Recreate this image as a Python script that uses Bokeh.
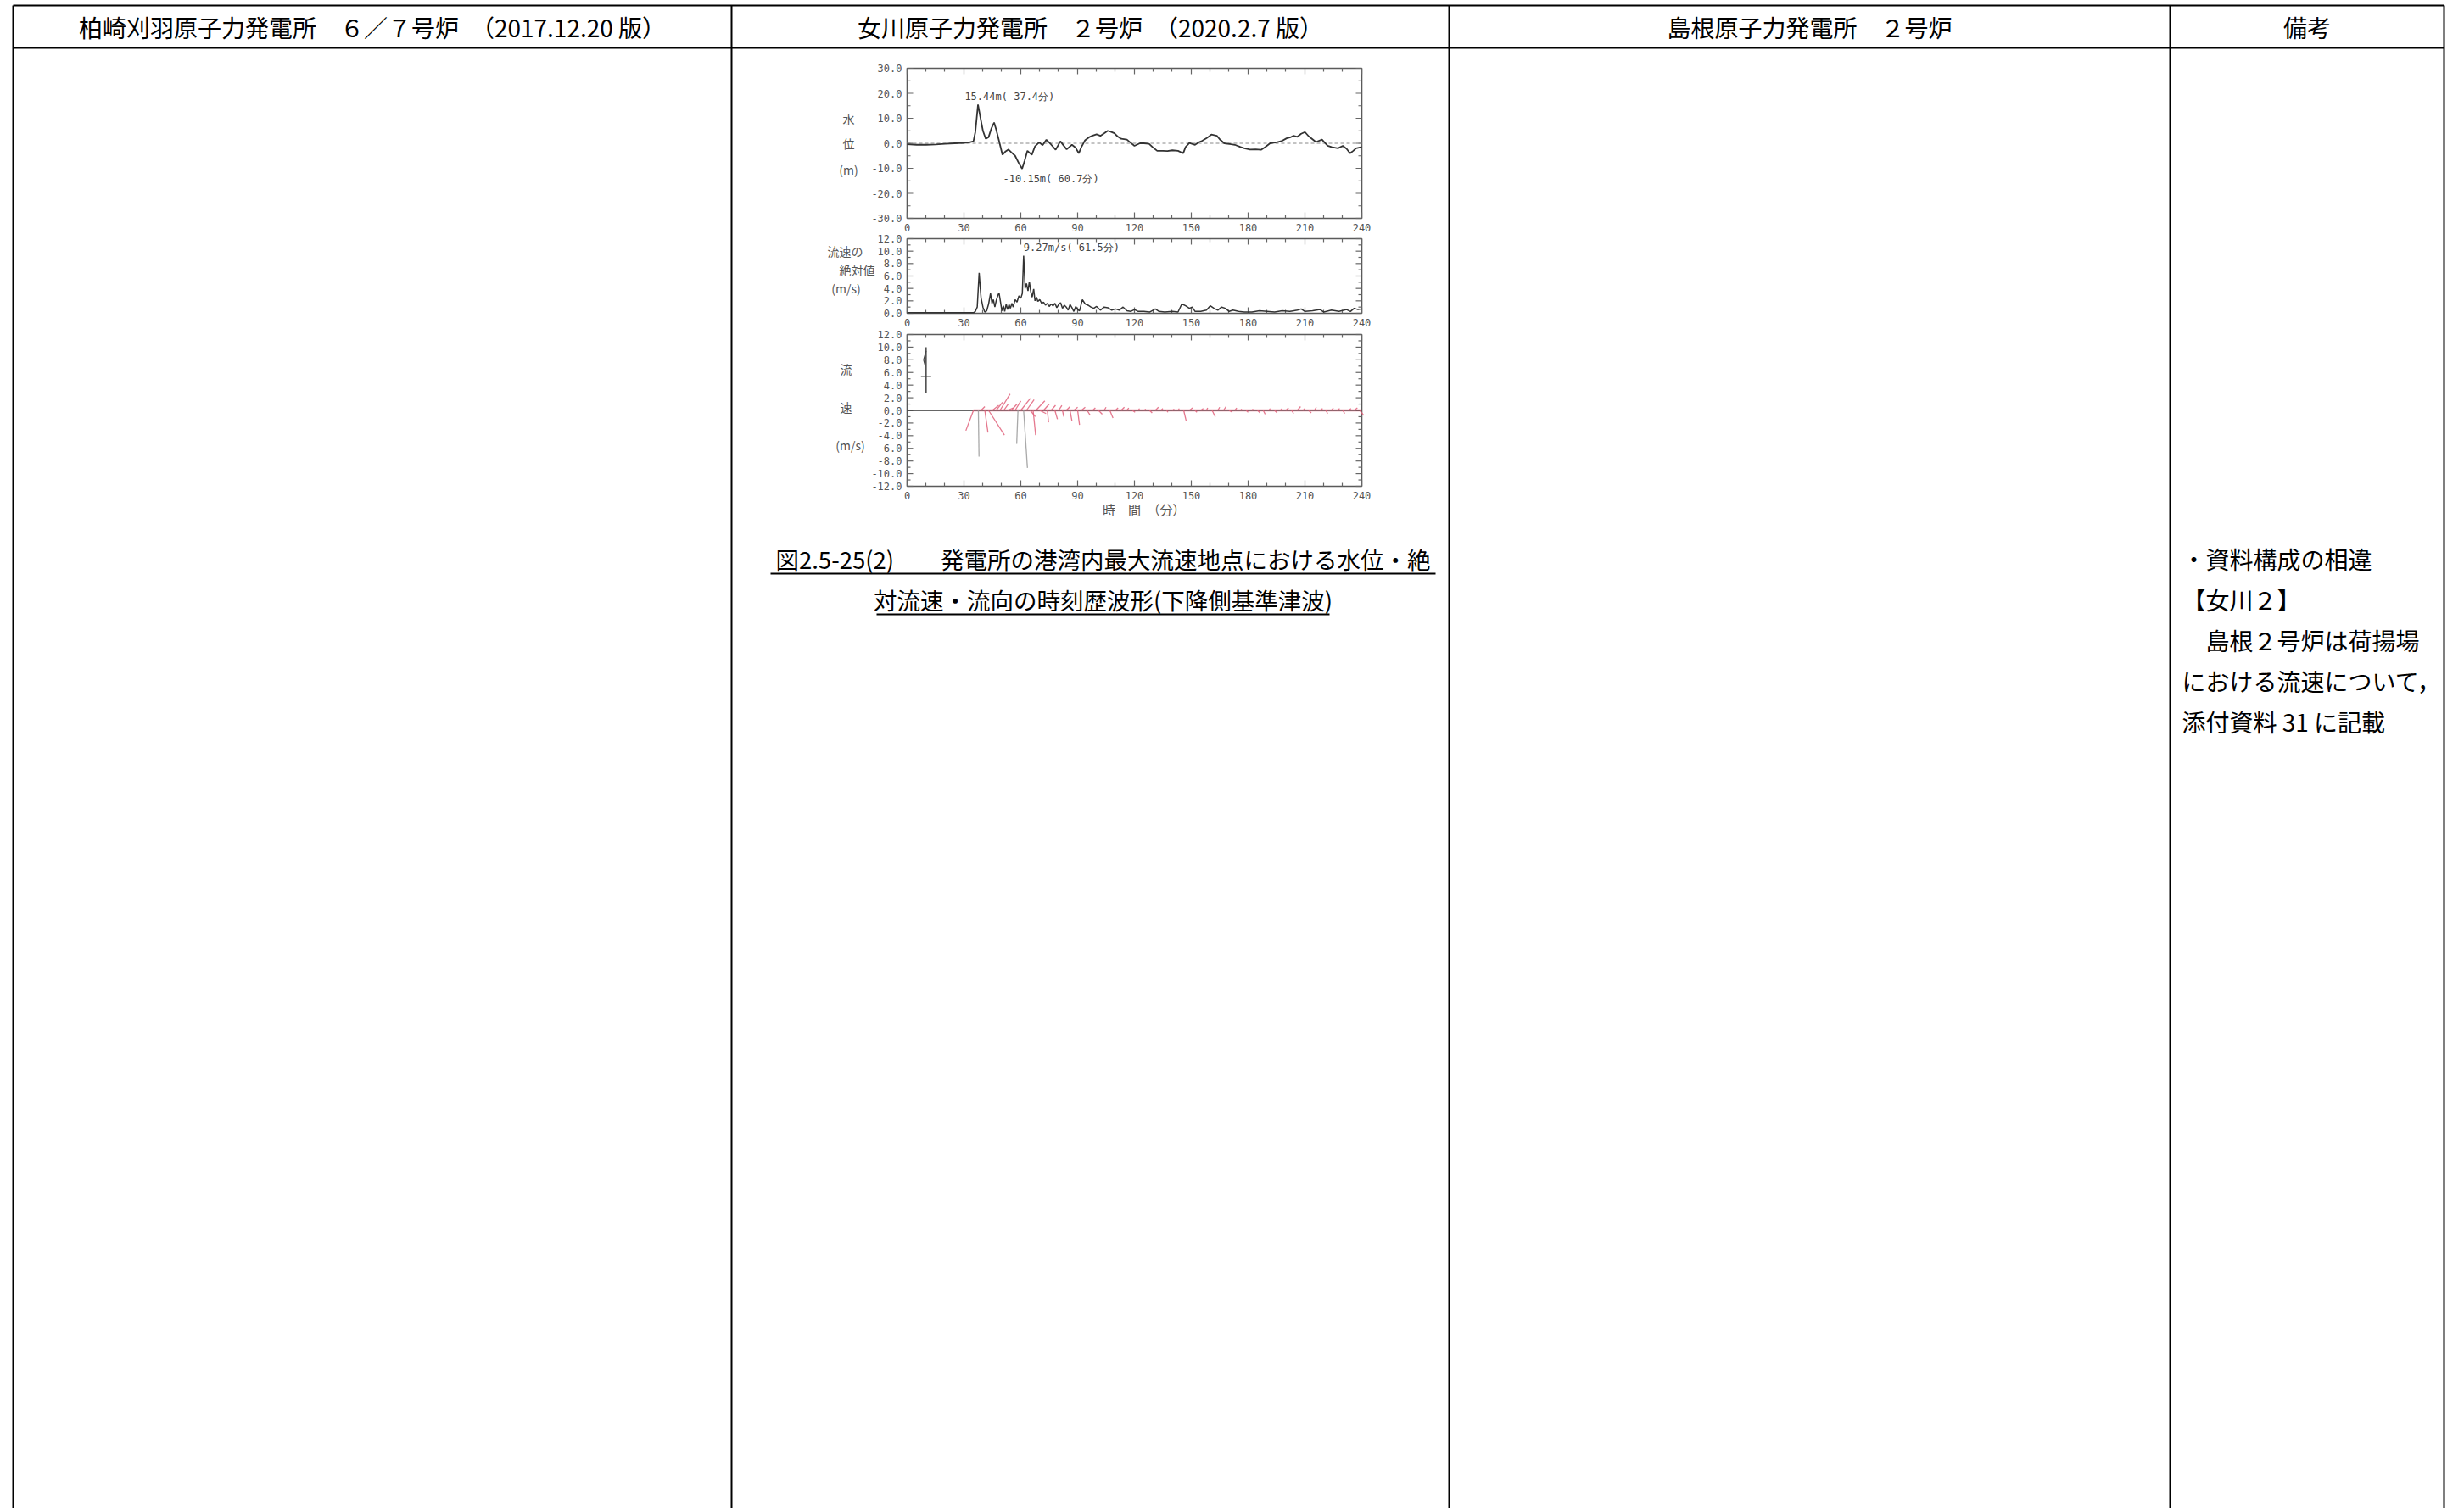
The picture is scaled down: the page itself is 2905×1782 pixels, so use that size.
import numpy as np
from bokeh.plotting import figure
from bokeh.models import Range1d
from bokeh.core.properties import value
from bokeh.embed import file_html
from bokeh.resources import INLINE

# ------------------------------------------------------------------ data
header_labels = [
    "柏崎刈羽原子力発電所　６／７号炉　（2017.12.20 版）",
    "女川原子力発電所　２号炉　（2020.2.7 版）",
    "島根原子力発電所　２号炉",
    "備考",
]
caption_lines = [
    "図2.5-25(2)　　発電所の港湾内最大流速地点における水位・絶",
    "対流速・流向の時刻歴波形(下降側基準津波)",
]
remark_lines = [
    "・資料構成の相違",
    "【女川２】",
    "　島根２号炉は荷揚場",
    "における流速について，",
    "添付資料 31 に記載",
]

time_ticks = [0, 30, 60, 90, 120, 150, 180, 210, 240]
level_ticks = [-30, -20, -10, 0, 10, 20, 30]
speed_ticks = [0, 2, 4, 6, 8, 10, 12]
vel_ticks = [-12, -10, -8, -6, -4, -2, 0, 2, 4, 6, 8, 10, 12]

level_title = ["水", "位", "(m)"]
speed_title = ["流速の", "絶対値", "(m/s)"]
vel_title = ["流", "速", "(m/s)"]
time_title = "時　間　（分）"

# water level (m) vs time (min)
level_t = [
    0, 5, 10, 15, 20, 25, 30, 33, 35, 36,
    37.4, 38.5, 40, 41.5, 43, 44.5, 45.9, 47, 48.5, 50.3,
    52, 53.5, 55, 57, 59, 60.7, 62, 63.5, 65.8, 67.5,
    69.7, 71.5, 73.5, 76, 78.4, 80.9, 82.5, 84.2, 87, 89,
    90.6, 92, 93.9, 96, 97.7, 100, 102, 104, 105.9, 107.5,
    109.4, 111, 113, 116, 118, 120, 122.9, 125, 127.7, 130,
    132, 135, 137.4, 140, 143, 145.7, 147, 149, 152, 154,
    155.8, 158, 160.6, 163.5, 165, 167.4, 171, 173, 176, 178,
    181, 184, 186.8, 189, 191.6, 195.5, 198, 200.3, 202, 204,
    206, 208, 210, 212, 214, 215.8, 219, 220.5, 222, 224,
    227.4, 230, 232, 233.8, 235.5, 237, 240]
level_m = [
    -0.4, -0.6, -0.6, -0.5, -0.2, 0.0, 0.1, 0.4, 0.8, 4.5,
    15.44, 11.0, 5.0, 1.8, 2.5, 6.0, 8.3, 5.5, 1.0, -4.6,
    -3.2, -2.5, -3.6, -5.0, -8.0, -10.15, -7.0, -3.0, -4.6, -1.2,
    0.4, -0.8, 1.4, -0.5, -2.6, 0.8, -0.8, -2.4, -0.6, -1.8,
    -4.0, -1.5, 1.2, 2.4, 3.0, 3.6, 3.0, 4.0, 5.0, 4.6,
    4.0, 2.8, 1.8, 1.5, 0.2, -1.0, 0.0, 0.0, -0.2, -1.8,
    -3.0, -3.0, -3.1, -2.8, -3.0, -4.0, -1.5, 0.1, -0.6, 0.4,
    1.0, 2.0, 3.5, 3.0, 1.6, 0.0, -0.4, -0.6, -1.5, -2.0,
    -2.5, -2.4, -2.6, -1.5, 0.0, 0.5, 1.0, 2.0, 2.3, 3.0,
    2.6, 3.8, 4.5, 2.8, 1.6, 0.5, 1.5, 0.2, -1.0, -1.5,
    -2.0, -1.0, -2.2, -4.0, -3.0, -2.0, -1.5]
level_max = (37.4, 15.44)
level_min = (60.7, -10.15)

# absolute flow speed (m/s) vs time (min)
speed_t = [
    0, 10, 20, 30, 35, 36, 37, 38, 39, 40,
    41, 42, 43, 44, 44.8, 45.5, 46.3, 47, 47.8, 48.5,
    49.3, 50, 50.8, 51.5, 52.3, 53, 53.8, 54.5, 55.3, 56,
    57, 58, 59, 60, 60.8, 61.5, 62.3, 63, 63.8, 64.5,
    65.3, 66, 66.8, 67.5, 68.3, 69, 70, 71, 72, 73,
    74, 75, 76, 77, 78, 79, 80, 81, 82, 83,
    84, 85, 86, 87, 88, 89, 90, 91, 92.5, 94,
    95.5, 97, 98.5, 100, 102, 104, 106, 108, 110, 112,
    114, 116, 118, 120, 122, 125, 128, 131, 133, 136,
    140, 143, 145, 147, 149, 150.5, 152, 155, 158, 160,
    162, 164, 166, 168, 170, 172, 175, 178, 182, 186,
    190, 194, 198, 202, 206, 208, 210, 214, 218, 220,
    224, 228, 232, 234, 236, 238, 240]
speed_v = [
    0.1, 0.1, 0.1, 0.1, 0.1, 0.3, 1.0, 6.5, 2.5, 1.0,
    0.2, 0.4, 1.5, 3.2, 1.6, 2.2, 1.0, 2.0, 2.8, 3.3,
    1.8, 0.4, 1.2, 0.3, 1.5, 0.6, 1.4, 0.8, 1.6, 1.0,
    2.2, 1.8, 2.8, 2.4, 3.2, 9.27, 4.0, 4.8, 3.6, 5.1,
    3.4, 2.6, 3.9, 2.0, 2.6, 1.9, 2.2, 1.6, 1.8, 1.3,
    1.6, 1.1, 1.5, 1.2, 1.6, 0.9, 1.4, 1.7, 0.8, 1.3,
    1.0, 0.5, 1.4, 0.9, 0.3, 1.1, 0.6, 0.4, 2.2, 1.5,
    1.3, 1.0, 0.8, 1.1, 0.5, 1.0, 0.9, 0.5, 0.7, 0.5,
    1.0, 0.4, 0.3, 0.6, 0.3, 0.3, 0.2, 0.7, 0.3, 0.2,
    0.3, 0.2, 1.5, 1.2, 0.8, 1.0, 0.3, 0.3, 0.5, 1.2,
    0.8, 0.5, 1.0, 0.8, 0.3, 0.5, 0.3, 0.2, 0.2, 0.4,
    0.3, 0.2, 0.4, 0.3, 0.5, 0.7, 0.3, 0.4, 0.6, 0.2,
    0.5, 0.3, 0.6, 0.3, 0.8, 0.6, 0.7]
speed_max = (61.5, 9.27)

# flow vectors: time (min), east component u, north component v (m/s)
stick_t = [
    35, 37.6, 39, 41, 43, 45, 47, 49, 51, 53,
    55, 57, 58.5, 60, 61.5, 63, 65, 66.5, 68, 70,
    72, 74, 76, 78, 80, 82, 84, 86, 88, 90,
    92, 95, 98, 101, 104, 107, 110, 113, 116, 119,
    122, 125, 128, 131, 134, 137, 140, 143, 146, 149,
    152, 155, 158, 161, 164, 167, 170, 173, 176, 179,
    182, 185, 188, 191, 194, 197, 200, 203, 206, 209,
    212, 215, 218, 221, 224, 227, 230, 233, 236, 239]
stick_u = [
    -1.2, 0.1, 0.6, 0.5, 2.5, 1.0, 1.0, 1.6, 0.7, 0.9,
    0.9, 0.9, -0.2, 1.5, 0.6, 1.2, 0.8, 0.4, 1.4, 1.0,
    0.9, 0.2, 0.7, 0.4, 0.5, 0.2, 0.6, 0.3, 0.6, 0.3,
    0.6, 0.5, 0.4, 0.6, 0.3, 0.5, 0.4, 0.5, 0.3, 0.4,
    0.2, 0.3, 0.4, 0.5, 0.3, 0.2, 0.3, 0.2, 0.4, 0.5,
    0.3, 0.4, 0.2, 0.5, 0.3, 0.4, 0.5, 0.3, 0.2, 0.3,
    0.2, 0.4, 0.3, 0.2, 0.4, 0.3, 0.4, 0.3, 0.5, 0.3,
    0.4, 0.3, 0.4, 0.3, 0.3, 0.4, 0.3, 0.4, 0.5, 0.6]
stick_v = [
    -3.2, -7.3, 0.6, -3.5, -3.9, 0.8, 1.3, 2.6, 1.0, 0.4,
    1.0, 1.5, -5.3, 1.9, -9.1, 1.7, -1.0, -3.9, 1.5, -0.5,
    1.0, -1.9, 0.8, -1.4, 0.8, -1.0, 0.6, -1.7, 0.5, -2.3,
    0.5, -0.8, 0.4, -0.6, 0.5, -1.2, 0.4, 0.5, 0.4, -0.3,
    0.3, 0.2, -0.4, 0.5, 0.3, -0.3, 0.2, 0.3, -1.7, 0.4,
    -0.3, 0.3, 0.4, -1.0, 0.5, 0.6, -0.3, 0.4, 0.2, -0.3,
    0.2, -0.4, -0.6, 0.3, -0.4, 0.3, 0.4, -0.5, 0.6, 0.3,
    -0.4, 0.5, 0.3, -0.5, 0.4, 0.3, -0.5, 0.3, 0.4, -0.8]
# reference (north) arrow drawn in the upper-left of the vector panel
ref_arrow_t = 10
ref_arrow_v = [2.8, 10.0]
ref_arrow_cross = 5.4

# ------------------------------------------------------------------ geometry
W, H = 2900, 1778
COL_X = [15, 862, 1708, 2558, 2881]
TOP_Y, HEAD_Y, TEXT_Y = 6, 56, 31
FX0, FX1 = 1069, 1605
P1 = (80, 257)
P2 = (281, 369)
P3 = (394, 573)
JP = value("Noto Sans CJK JP")
MONO = value("DejaVu Sans Mono")

p = figure(width=W, height=H, x_range=Range1d(0, W), y_range=Range1d(H, 0),
           toolbar_location=None, output_backend="svg", min_border=0,
           x_axis_location=None, y_axis_location=None)
p.grid.visible = False
p.outline_line_color = None
p.background_fill_color = "white"
p.border_fill_color = "white"

# ---------------- table
p.segment(x0=[COL_X[0], COL_X[0]], y0=[TOP_Y, HEAD_Y], x1=[COL_X[-1], COL_X[-1]], y1=[TOP_Y, HEAD_Y],
          line_color="black", line_width=2.2)
p.segment(x0=COL_X, y0=[TOP_Y] * len(COL_X), x1=COL_X, y1=[H] * len(COL_X),
          line_color="black", line_width=2)

centers = [(a + b) / 2 for a, b in zip(COL_X[:-1], COL_X[1:])]
p.text(x=centers, y=[TEXT_Y] * 4, text=header_labels, text_align="center", text_baseline="middle",
       text_font=JP, text_font_size="28px", text_color="black")

# ---------------- caption
cap_x = 1300
cap_y = [658, 706]
cap_w = [784, 534]
p.text(x=[cap_x] * 2, y=cap_y, text=caption_lines, text_align="center", text_baseline="middle",
       text_font=JP, text_font_size="27.5px", text_color="black")
p.segment(x0=[cap_x - w / 2 for w in cap_w], y0=[y + 18 for y in cap_y],
          x1=[cap_x + w / 2 for w in cap_w], y1=[y + 18 for y in cap_y],
          line_color="black", line_width=2)

# ---------------- remarks
p.text(x=[2572] * len(remark_lines), y=[658 + 48 * i for i in range(len(remark_lines))],
       text=remark_lines, text_align="left", text_baseline="middle",
       text_font=JP, text_font_size="28px", text_color="black")


# ---------------- chart panels
def panel(py, ymin, ymax):
    sp = p.subplot(x_source=Range1d(0, 240), y_source=Range1d(ymin, ymax),
                   x_target=Range1d(FX0, FX1), y_target=Range1d(py[1], py[0]))
    sx = (FX1 - FX0) / 240.0
    sy = (py[1] - py[0]) / float(ymax - ymin)
    return sp, sx, sy


def decorate(sp, sx, sy, ymin, ymax, yticks, minor_y, title, title_pos):
    # frame
    sp.quad(left=[0], right=[240], bottom=[ymin], top=[ymax], fill_color=None,
            line_color="#5a5a5a", line_width=1.6)
    # x ticks every 10 min (inward, top and bottom)
    mt = np.arange(0, 241, 10)
    big = np.isin(mt, time_ticks)
    ln = np.where(big, 7, 4) / sy
    sp.segment(x0=mt, y0=[ymin] * len(mt), x1=mt, y1=ymin + ln, line_color="#666", line_width=1.2)
    sp.segment(x0=mt, y0=[ymax] * len(mt), x1=mt, y1=ymax - ln, line_color="#666", line_width=1.2)
    # y ticks
    my = np.arange(ymin, ymax + 1e-9, minor_y)
    bigy = np.isin(np.round(my, 3), yticks)
    lx = np.where(bigy, 7, 4) / sx
    sp.segment(x0=[0] * len(my), y0=my, x1=lx, y1=my, line_color="#666", line_width=1.2)
    sp.segment(x0=[240] * len(my), y0=my, x1=240 - lx, y1=my, line_color="#666", line_width=1.2)
    # tick labels
    sp.text(x=time_ticks, y=[ymin - 11 / sy] * len(time_ticks), text=[str(t) for t in time_ticks],
            text_align="center", text_baseline="middle", text_font=MONO, text_font_size="12px",
            text_color="#555")
    sp.text(x=[-6 / sx] * len(yticks), y=yticks, text=["%.1f" % v for v in yticks],
            text_align="right", text_baseline="middle", text_font=MONO, text_font_size="12px",
            text_color="#555")
    # y title
    sp.text(x=[(px - FX0) / sx for px, _ in title_pos], y=[lv for _, lv in title_pos], text=title,
            text_align="center", text_baseline="middle", text_font=JP, text_font_size="14px",
            text_color="#555")


# panel 1: water level
sp1, sx1, sy1 = panel(P1, -30, 30)
decorate(sp1, sx1, sy1, -30, 30, level_ticks, 5, level_title, [(1000, 10), (1000, 0), (1000, -10.5)])
sp1.line(x=[0, 240], y=[0, 0], line_color="#888", line_width=1, line_dash="4 3")
sp1.line(x=level_t, y=level_m, line_color="#333", line_width=1.8)
sp1.text(x=[30.4], y=[18.8], text=["%.2fm( %.1f分)" % (level_max[1], level_max[0])],
         text_align="left", text_baseline="middle", text_font=MONO, text_font_size="12px", text_color="#444")
sp1.text(x=[50.6], y=[-14.4], text=["%.2fm( %.1f分)" % (level_min[1], level_min[0])],
         text_align="left", text_baseline="middle", text_font=MONO, text_font_size="12px", text_color="#444")

# panel 2: absolute speed
sp2, sx2, sy2 = panel(P2, 0, 12)
decorate(sp2, sx2, sy2, 0, 12, speed_ticks, 1, speed_title, [(996, 10), (1010, 7), (997, 4)])
sp2.line(x=speed_t, y=speed_v, line_color="#333", line_width=1.5)
sp2.text(x=[speed_max[0]], y=[10.6], text=["%.2fm/s( %.1f分)" % (speed_max[1], speed_max[0])],
         text_align="left", text_baseline="middle", text_font=MONO, text_font_size="12px", text_color="#444")

# panel 3: flow vectors
sp3, sx3, sy3 = panel(P3, -12, 12)
decorate(sp3, sx3, sy3, -12, 12, vel_ticks, 1, vel_title, [(997, 6.6), (997, 0.6), (1002, -5.5)])
sp3.line(x=[0, 240], y=[0, 0], line_color="#333", line_width=1.4)
sp3.line(x=[stick_t[0], 240], y=[0, 0], line_color="#e0607a", line_width=3, line_alpha=0.35)
k = sy3 / sx3  # minutes per (m/s) so that the vector keeps its true direction
st = np.array(stick_t, dtype=float)
su = np.array(stick_u)
sv = np.array(stick_v)
cols = ["#9a9a9a" if abs(v) > 5 else "#e0607a" for v in stick_v]
sp3.segment(x0=st, y0=np.zeros_like(st), x1=st + su * k, y1=sv, line_color=cols,
            line_width=1.3, line_alpha=0.85)
sp3.segment(x0=[ref_arrow_t], y0=[ref_arrow_v[0]], x1=[ref_arrow_t], y1=[ref_arrow_v[1]],
            line_color="#444", line_width=1.5)
sp3.segment(x0=[ref_arrow_t - 2.7], y0=[ref_arrow_cross], x1=[ref_arrow_t + 2.7], y1=[ref_arrow_cross],
            line_color="#444", line_width=1.5)
sp3.line(x=[ref_arrow_t, ref_arrow_t - 1.3, ref_arrow_t - 0.4],
         y=[ref_arrow_v[1] - 0.6, ref_arrow_v[1] - 2.0, ref_arrow_v[1] - 3.0],
         line_color="#444", line_width=1.3)
sp3.text(x=[125], y=[-12 - 27 / sy3], text=[time_title], text_align="center", text_baseline="middle",
         text_font=JP, text_font_size="15px", text_color="#555")

open("out.html", "w").write(file_html(p, INLINE))
